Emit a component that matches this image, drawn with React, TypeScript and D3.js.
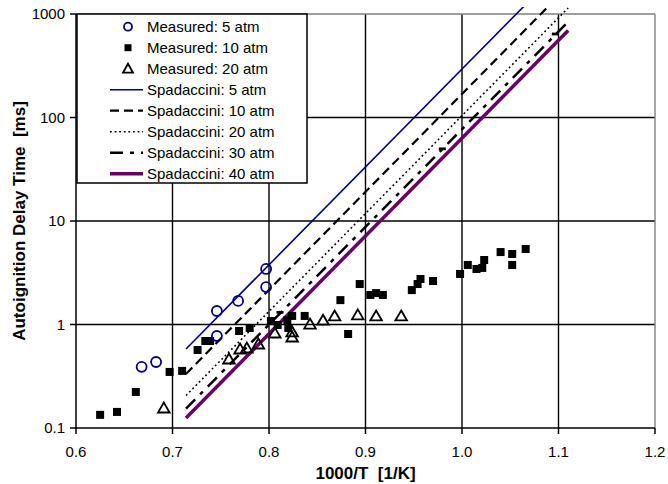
import React from 'react';
import * as d3 from 'd3';

// ---- axis ticks ----
const xTicks = [0.6, 0.7, 0.8, 0.9, 1.0, 1.1, 1.2];
const xTickLabels = ['0.6', '0.7', '0.8', '0.9', '1.0', '1.1', '1.2'];
const yTicks = [0.1, 1, 10, 100, 1000];
const yTickLabels = ['0.1', '1', '10', '100', '1000'];

// ---- measured data (x = 1000/T, y = delay ms) ----
const meas5X = [0.668, 0.683, 0.746, 0.746, 0.768, 0.797, 0.797];
const meas5Y = [0.39, 0.434, 0.774, 1.35, 1.69, 2.3, 3.44];

const meas10X = [0.625, 0.6425, 0.662, 0.697, 0.71, 0.726, 0.734, 0.739, 0.769, 0.78, 0.802, 0.809, 0.819, 0.824, 0.82, 0.837, 0.874, 0.882, 0.894, 0.905, 0.911, 0.918, 0.948, 0.954, 0.957, 0.97, 0.998, 1.006, 1.015, 1.021, 1.023, 1.04, 1.052, 1.052, 1.066];
const meas10Y = [0.134, 0.143, 0.223, 0.348, 0.356, 0.567, 0.693, 0.693, 0.866, 0.925, 1.08, 0.989, 1.1, 1.21, 0.925, 1.21, 1.72, 0.81, 2.46, 1.93, 2.01, 1.93, 2.15, 2.46, 2.75, 2.63, 3.08, 3.76, 3.44, 3.52, 4.2, 5.01, 4.8, 3.76, 5.36];

const meas20X = [0.691, 0.7585, 0.77, 0.777, 0.789, 0.806, 0.824, 0.824, 0.8425, 0.856, 0.868, 0.892, 0.911, 0.937];
const meas20Y = [0.156, 0.464, 0.58, 0.593, 0.648, 0.828, 0.847, 0.757, 1.01, 1.1, 1.21, 1.24, 1.21, 1.21];

// ---- Spadaccini correlation lines (end points) ----
const corrX = [0.714, 1.11];
const spad5 = [0.58, 3220];
const spad10 = [0.333, 1850];
const spad20 = [0.206, 1143];
const spad30 = [0.154, 839];
const spad40 = [0.125, 693];
const spad30MarkX = [0.8114, 0.9796, 1.0967];
const spad30MarkY = [1.31, 49.8, 641];

const legendLabels = [
  'Measured: 5 atm',
  'Measured: 10 atm',
  'Measured: 20 atm',
  'Spadaccini: 5 atm',
  'Spadaccini: 10 atm',
  'Spadaccini: 20 atm',
  'Spadaccini: 30 atm',
  'Spadaccini: 40 atm',
];

const NAVY = '#000080';
const PURPLE = '#660066';
const FONT = 'Liberation Sans, Arial, sans-serif';

export default function App() {
  const left = 76, right = 655, top = 14, bottom = 428;
  const x = d3.scaleLinear().domain([0.6, 1.2]).range([left, right]);
  const y = d3.scaleLog().domain([0.1, 1000]).range([bottom, top]);

  const lineGen = d3.line<[number, number]>().x((d) => x(d[0])).y((d) => y(d[1]));
  const mk = (ys: number[]) => lineGen(corrX.map((v, i) => [v, ys[i]] as [number, number])) || '';

  const lineStyles = [
    { ys: spad5, stroke: NAVY, w: 1.6, dash: undefined as string | undefined },
    { ys: spad10, stroke: '#000', w: 2.2, dash: '9,5' },
    { ys: spad20, stroke: '#000', w: 1.6, dash: '1.8,2.8' },
    { ys: spad30, stroke: '#000', w: 2.5, dash: '13,7,4,7' },
    { ys: spad40, stroke: PURPLE, w: 3.5, dash: undefined },
  ];

  const triPath = (cx: number, cy: number) =>
    `M${cx},${cy - 5.5}L${cx + 5.8},${cy + 4.5}L${cx - 5.8},${cy + 4.5}Z`;

  const legX = 77, legY = 14, legW = 230, legH = 169;
  const rowY = (i: number) => 26.7 + i * 21;

  return (
    <svg width={668} height={484} style={{ position: 'absolute', left: 0, top: 0, background: '#fff' }} fontFamily={FONT}>
      <defs>
        <clipPath id="plotclip">
          <rect x={left} y={7} width={right - left} height={bottom - 7} />
        </clipPath>
      </defs>
      <rect x={0} y={0} width={668} height={484} fill="#fff" />

      {/* gridlines */}
      {yTicks.slice(1, 4).map((t) => (
        <line key={'gy' + t} x1={left} x2={right} y1={y(t)} y2={y(t)} stroke="#000" strokeWidth={1.4} />
      ))}
      {xTicks.slice(1, 6).map((t) => (
        <line key={'gx' + t} x1={x(t)} x2={x(t)} y1={top} y2={bottom} stroke="#000" strokeWidth={1.4} />
      ))}
      {/* plot border top/right gray */}
      <line x1={left} x2={right} y1={top} y2={top} stroke="#808080" strokeWidth={1.4} />
      <line x1={right} x2={right} y1={top} y2={bottom} stroke="#808080" strokeWidth={1.4} />

      {/* correlation lines */}
      <g clipPath="url(#plotclip)">
        {lineStyles.map((s, i) => (
          <path key={'l' + i} d={mk(s.ys)} fill="none" stroke={s.stroke} strokeWidth={s.w} strokeDasharray={s.dash} />
        ))}
        {spad30MarkX.map((v, i) => (
          <rect key={'dm' + i} x={x(v) - 3.5} y={y(spad30MarkY[i]) - 1.4} width={7} height={2.8} fill="#000" />
        ))}
      </g>

      {/* measured 10 atm squares */}
      {meas10X.map((v, i) => (
        <rect key={'s' + i} x={x(v) - 4} y={y(meas10Y[i]) - 4} width={8} height={8} fill="#000" />
      ))}
      {/* measured 20 atm triangles */}
      {meas20X.map((v, i) => (
        <path key={'t' + i} d={triPath(x(v), y(meas20Y[i]))} fill="none" stroke="#000" strokeWidth={1.8} strokeLinejoin="miter" />
      ))}
      {/* measured 5 atm circles */}
      {meas5X.map((v, i) => (
        <circle key={'c' + i} cx={x(v)} cy={y(meas5Y[i])} r={5} fill="none" stroke={NAVY} strokeWidth={1.8} />
      ))}

      {/* axes */}
      <line x1={left} x2={left} y1={top} y2={bottom} stroke="#000" strokeWidth={1.5} />
      <line x1={left} x2={right} y1={bottom} y2={bottom} stroke="#000" strokeWidth={1.5} />
      {yTicks.map((t, i) => (
        <g key={'yt' + t}>
          <line x1={left - 6} x2={left} y1={y(t)} y2={y(t)} stroke="#000" strokeWidth={1.5} />
          <text x={left - 11} y={y(t) + 5} textAnchor="end" fontSize={15} fill="#000">{yTickLabels[i]}</text>
        </g>
      ))}
      {xTicks.map((t, i) => (
        <g key={'xt' + t}>
          <line x1={x(t)} x2={x(t)} y1={bottom} y2={bottom + 6} stroke="#000" strokeWidth={1.5} />
          <text x={x(t)} y={457} textAnchor="middle" fontSize={15} fill="#000">{xTickLabels[i]}</text>
        </g>
      ))}

      {/* axis titles */}
      <text x={(left + right) / 2} y={479} textAnchor="middle" fontSize={17} fontWeight="bold" fill="#000" style={{ whiteSpace: 'pre' }}>
        {'1000/T  [1/K]'}
      </text>
      <text
        transform={`translate(25,${(top + bottom) / 2}) rotate(-90)`}
        textAnchor="middle"
        fontSize={17}
        fontWeight="bold"
        fill="#000"
        style={{ whiteSpace: 'pre' }}
      >
        {'Autoignition Delay Time  [ms]'}
      </text>

      {/* legend */}
      <rect x={legX} y={legY} width={legW} height={legH} fill="#fff" stroke="#000" strokeWidth={1.5} />
      {legendLabels.map((lab, i) => (
        <text key={'lt' + i} x={147} y={rowY(i) + 5.5} fontSize={15} fill="#000">{lab}</text>
      ))}
      <circle cx={128} cy={rowY(0)} r={4} fill="none" stroke={NAVY} strokeWidth={1.8} />
      <rect x={124.5} y={rowY(1) - 3.5} width={7} height={7} fill="#000" />
      <path d={`M128,${rowY(2) - 5}L133,${rowY(2) + 4}L123,${rowY(2) + 4}Z`} fill="none" stroke="#000" strokeWidth={1.8} />
      {lineStyles.map((s, i) => (
        <line
          key={'ll' + i}
          x1={110}
          x2={143}
          y1={rowY(i + 3)}
          y2={rowY(i + 3)}
          stroke={s.stroke}
          strokeWidth={s.w}
          strokeDasharray={s.dash}
        />
      ))}
    </svg>
  );
}
